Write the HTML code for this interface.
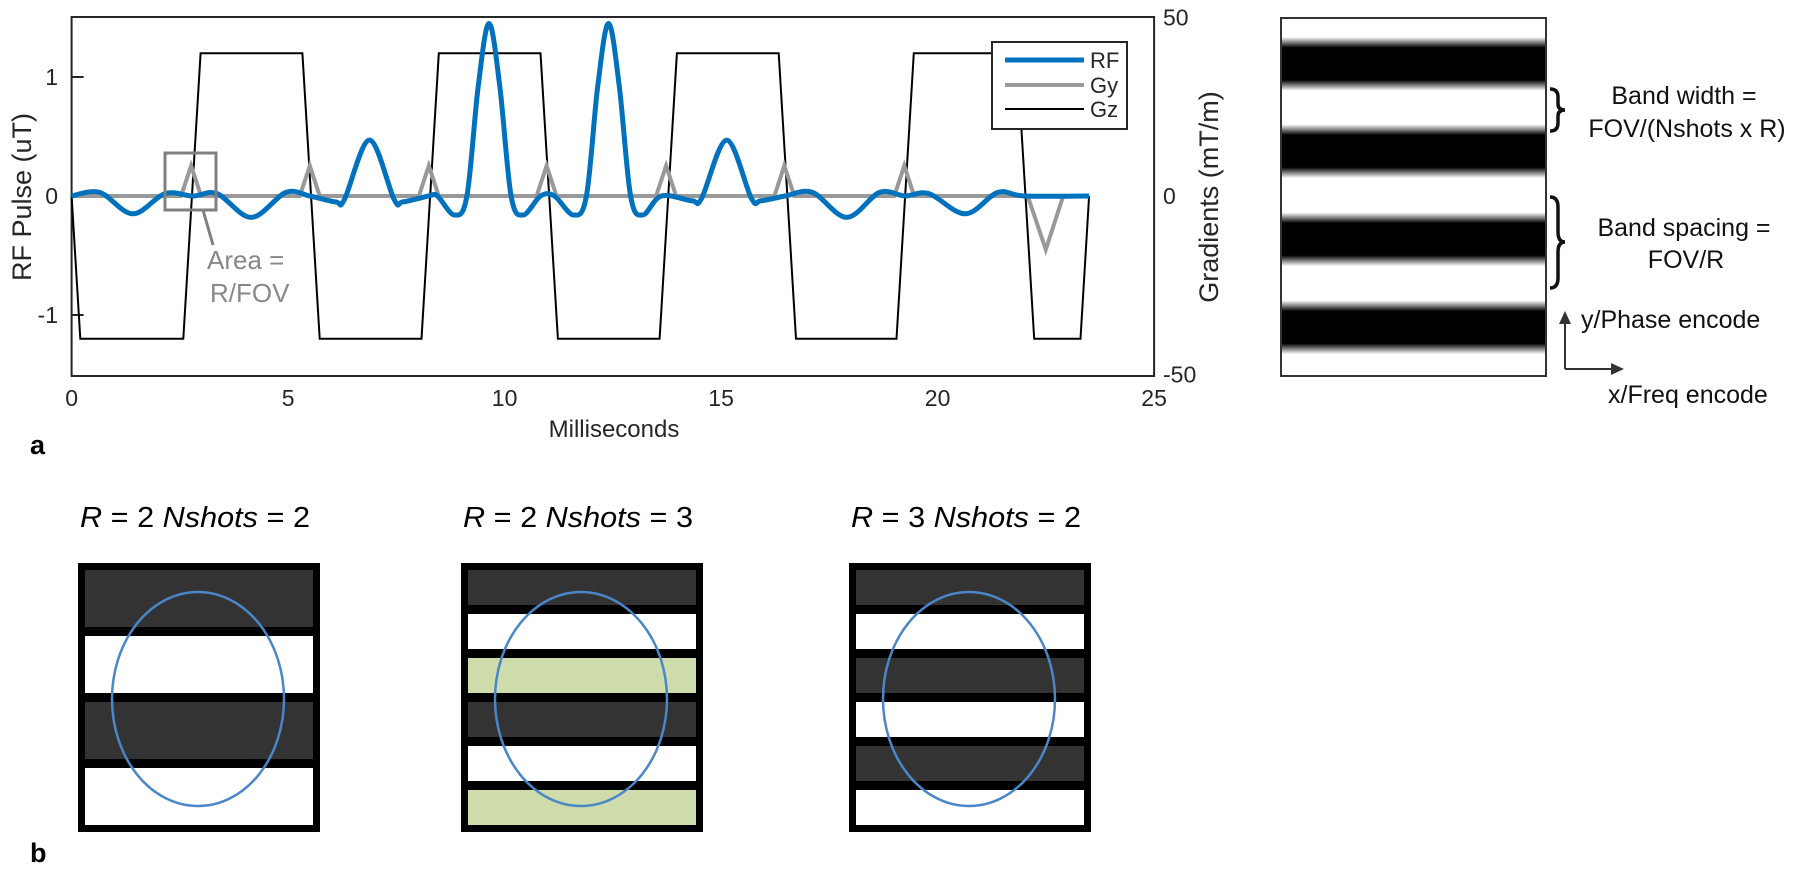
<!DOCTYPE html>
<html><head><meta charset="utf-8">
<style>
html,body{margin:0;padding:0;background:#fff;}
svg{display:block;font-family:"Liberation Sans",Arial,sans-serif;}
</style></head>
<body>
<svg id="fig" width="1800" height="896" viewBox="0 0 1800 896" xmlns="http://www.w3.org/2000/svg">
  <defs>
    <linearGradient id="bandGrad" x1="0" y1="0" x2="0" y2="1"></linearGradient>
  </defs>
  <g id="chart"></g>
  <g id="legend">
    <rect x="992" y="42" width="135" height="87" fill="#fff" stroke="#262626" stroke-width="2"/>
    <line x1="1005" y1="60" x2="1084" y2="60" stroke="#0072bd" stroke-width="5"/>
    <text x="1090" y="68" font-size="22" fill="#262626">RF</text>
    <line x1="1005" y1="85" x2="1084" y2="85" stroke="#999" stroke-width="4"/>
    <text x="1090" y="93" font-size="22" fill="#262626">Gy</text>
    <line x1="1005" y1="109" x2="1084" y2="109" stroke="#000" stroke-width="2"/>
    <text x="1090" y="117" font-size="22" fill="#262626">Gz</text>
  </g>
  <g>
    <rect x="165" y="153" width="51" height="57" fill="none" stroke="#808080" stroke-width="3"/>
    <line x1="203" y1="210" x2="213" y2="245" stroke="#808080" stroke-width="3"/>
    <text x="207" y="269" font-size="26" fill="#888">Area =</text>
    <text x="210" y="302" font-size="26" fill="#888">R/FOV</text>
  </g>
  <text x="30" y="454" font-size="27" font-weight="bold" fill="#000">a</text>

  <g>
    <rect id="bandRect" x="1281" y="18" width="265" height="358" fill="url(#bandGrad)" stroke="#333" stroke-width="2"/>
  </g>
  <g fill="#111">
    <path d="M1550 89 Q1558 89 1558 97 L1558 104 Q1558 110 1565 110 Q1558 110 1558 116 L1558 123 Q1558 131 1550 131" fill="none" stroke="#111" stroke-width="3.5"/>
    <path d="M1550 197 Q1558 197 1558 207 L1558 232 Q1558 242 1565 242 Q1558 242 1558 252 L1558 278 Q1558 288 1550 288" fill="none" stroke="#111" stroke-width="3.5"/>
    <text x="1684" y="104" font-size="25" text-anchor="middle">Band width =</text>
    <text x="1687" y="137" font-size="25" text-anchor="middle">FOV/(Nshots x R)</text>
    <text x="1684" y="236" font-size="25" text-anchor="middle">Band spacing =</text>
    <text x="1686" y="268" font-size="25" text-anchor="middle">FOV/R</text>
    <line x1="1565" y1="320" x2="1565" y2="369" stroke="#333" stroke-width="2"/>
    <polygon points="1559,324 1565,311 1571,324" fill="#333"/>
    <line x1="1565" y1="369" x2="1615" y2="369" stroke="#333" stroke-width="2"/>
    <polygon points="1611,363 1624,369 1611,375" fill="#333"/>
    <text x="1581" y="328" font-size="25">y/Phase encode</text>
    <text x="1608" y="403" font-size="25">x/Freq encode</text>
  </g>

  <g id="panelB"></g>
  <text x="30" y="862" font-size="27" font-weight="bold" fill="#000">b</text>
</svg>
<script>
// ---------- Chart data ----------
const xTicks = [0, 5, 10, 15, 20, 25];
const rfTicks = [-1, 0, 1];
const gradTicks = [-50, 0, 50];
const rfTime = [0,0.65,1.41,2.16,2.8,3.36,4.15,4.95,5.5,6.1,6.3,6.88,7.45,7.65,8.25,8.45,8.84,9.13,9.39,9.64,9.89,10.15,10.43,10.83,11.15,11.59,11.89,12.15,12.4,12.65,12.91,13.19,13.62,14.33,14.55,15.13,15.7,15.92,16.48,17.11,17.9,18.66,19.25,19.8,20.64,21.39,22.0,23.5];
const rfValue = [0,0.03,-0.15,0.02,0,0.02,-0.18,0.03,0,-0.05,-0.03,0.47,-0.03,-0.05,0,0,-0.16,0,0.92,1.45,0.92,0,-0.16,0,0,-0.16,0,0.92,1.45,0.92,0,-0.16,0,-0.04,-0.02,0.47,-0.02,-0.04,0,0.03,-0.18,0.03,0,0.02,-0.15,0.03,0,0];
const gzTime = [0,0.2,2.58,2.98,5.33,5.73,8.08,8.48,10.83,11.23,13.58,13.98,16.33,16.73,19.05,19.45,21.83,22.23,23.3,23.5];
const gzValue = [0,-40,-40,40,40,-40,-40,40,40,-40,-40,40,40,-40,-40,40,40,-40,-40,0];
const gyTime = [0,2.53,2.76,2.99,5.27,5.5,5.73,8.02,8.25,8.48,10.74,10.97,11.2,13.5,13.73,13.96,16.23,16.46,16.69,19.0,19.23,19.46,22.08,22.5,22.9,23.5];
const gyValue = [0,0,8.5,0,0,8.5,0,0,8.5,0,0,8.5,0,0,8.5,0,0,8.5,0,0,8.5,0,0,-15,0,0];

const bandCenters = [0.128, 0.372, 0.618, 0.864];

const panelTitles = ["R = 2  Nshots = 2","R = 2  Nshots = 3","R = 3  Nshots = 2"];
const panelRs = ["2","2","3"];
const panelNs = ["2","3","2"];
const panelStripes = [
  ["dark","white","dark","white"],
  ["dark","white","green","dark","white","green"],
  ["dark","white","dark","white","dark","white"]
];

const NS="http://www.w3.org/2000/svg";
const X0=71.6, XS=43.3, Y0=196, RS=119, GS=119*1.5/50;
const xs=t=>X0+t*XS, yr=v=>Y0-v*RS, yg=g=>Y0-g*GS;
function mk(tag,attrs,parent){const e=document.createElementNS(NS,tag);for(const k in attrs)e.setAttribute(k,attrs[k]);parent.appendChild(e);return e;}
const chart=document.getElementById('chart');

const box=mk('rect',{x:X0,y:17,width:xs(25)-X0,height:359,fill:'none',stroke:'#262626','stroke-width':2},chart);



xTicks.forEach(t=>{
  const lb=mk('text',{x:xs(t),y:406,'font-size':23,'text-anchor':'middle',fill:'#262626'},chart);
  lb.textContent=t;
  
  
});
rfTicks.forEach(v=>{
  const lb=mk('text',{x:58,y:yr(v)+8,'font-size':23,'text-anchor':'end',fill:'#262626'},chart);
  lb.textContent=v;
  
  
  const tk=mk('line',{x1:X0,y1:yr(v),x2:X0+12,y2:yr(v),stroke:'#262626','stroke-width':2},chart);
  
  
});
gradTicks.forEach(g=>{
  const lb=mk('text',{x:1163,y:yg(g)+8,'font-size':23,fill:'#262626'},chart);
  lb.textContent=g;
  
  
});
const yl=mk('text',{x:0,y:0,'font-size':27,'text-anchor':'middle',fill:'#262626',transform:'translate(31,197) rotate(-90)'},chart);
yl.textContent='RF Pulse (uT)';


const yl2=mk('text',{x:0,y:0,'font-size':27,'text-anchor':'middle',fill:'#262626',transform:'translate(1218,197) rotate(-90)'},chart);
yl2.textContent='Gradients (mT/m)';


const xl=mk('text',{x:614,y:437,'font-size':24,'text-anchor':'middle',fill:'#262626'},chart);
xl.textContent='Milliseconds';



function linePath(ts,vs,yf){return ts.map((t,i)=>(i?'L':'M')+xs(t).toFixed(1)+' '+yf(vs[i]).toFixed(1)).join(' ');}
function smoothPath(ts,vs,yf){
  const p=ts.map((t,i)=>[xs(t),yf(vs[i])]);
  let d='M'+p[0][0]+' '+p[0][1];
  for(let i=0;i<p.length-1;i++){
    const p0=p[Math.max(i-1,0)],p1=p[i],p2=p[i+1],p3=p[Math.min(i+2,p.length-1)];
    const c1=[p1[0]+(p2[0]-p0[0])/6,p1[1]+(p2[1]-p0[1])/6];
    const c2=[p2[0]-(p3[0]-p1[0])/6,p2[1]-(p3[1]-p1[1])/6];
    d+=' C'+c1[0].toFixed(1)+' '+c1[1].toFixed(1)+' '+c2[0].toFixed(1)+' '+c2[1].toFixed(1)+' '+p2[0].toFixed(1)+' '+p2[1].toFixed(1);
  }
  return d;
}
const gz=mk('path',{d:linePath(gzTime,gzValue,yg),fill:'none',stroke:'#000','stroke-width':2},chart);


const gy=mk('path',{d:linePath(gyTime,gyValue,yg),fill:'none',stroke:'#999','stroke-width':4},chart);


const rf=mk('path',{d:smoothPath(rfTime,rfValue,yr),fill:'none',stroke:'#0072bd','stroke-width':5,'stroke-linejoin':'round'},chart);



const grad=document.getElementById('bandGrad');
const core=0.045, blur=0.03;
const stops=[[0,'#fff']];
bandCenters.forEach(c=>{stops.push([c-core-blur,'#fff'],[c-core,'#000'],[c+core,'#000'],[c+core+blur,'#fff']);});
stops.push([1,'#fff']);
stops.forEach(s=>{mk('stop',{offset:Math.max(0,Math.min(1,s[0])),'stop-color':s[1]},grad);});

const pb=document.getElementById('panelB');
const boxX=[78,461,849], boxY=563, boxW=242, boxH=269, border=7, sep=9;
const fills={dark:'#333',white:'#fff',green:'#cddcaa'};
panelTitles.forEach((ttl,k)=>{
  const g=mk('g',{},pb);
  
  
  const t=mk('text',{x:boxX[k]+2,y:527,'font-size':29,fill:'#000',textLength:230,lengthAdjust:'spacingAndGlyphs'},g);
  
  
  const a=mk('tspan',{'font-style':'italic'},t);a.textContent='R';
  const b=mk('tspan',{},t);b.textContent=' = '+panelRs[k]+'  ';
  const c=mk('tspan',{'font-style':'italic'},t);c.textContent='Nshots';
  const d=mk('tspan',{},t);d.textContent=' = '+panelNs[k];
  const bg=mk('rect',{x:boxX[k],y:boxY,width:boxW,height:boxH,fill:'#000'},g);
  
  
  const st=panelStripes[k], n=st.length;
  const innerH=boxH-2*border, h=(innerH-(n-1)*sep)/n;
  st.forEach((s,i)=>{
    const r=mk('rect',{x:boxX[k]+border,y:boxY+border+i*(h+sep),width:boxW-2*border,height:h,fill:fills[s]},g);
    
    
  });
  const e=mk('ellipse',{cx:boxX[k]+120,cy:699,rx:86,ry:107,fill:'none',stroke:'#4a86c8','stroke-width':2.5},g);
  
  
});
</script>
</body></html>
